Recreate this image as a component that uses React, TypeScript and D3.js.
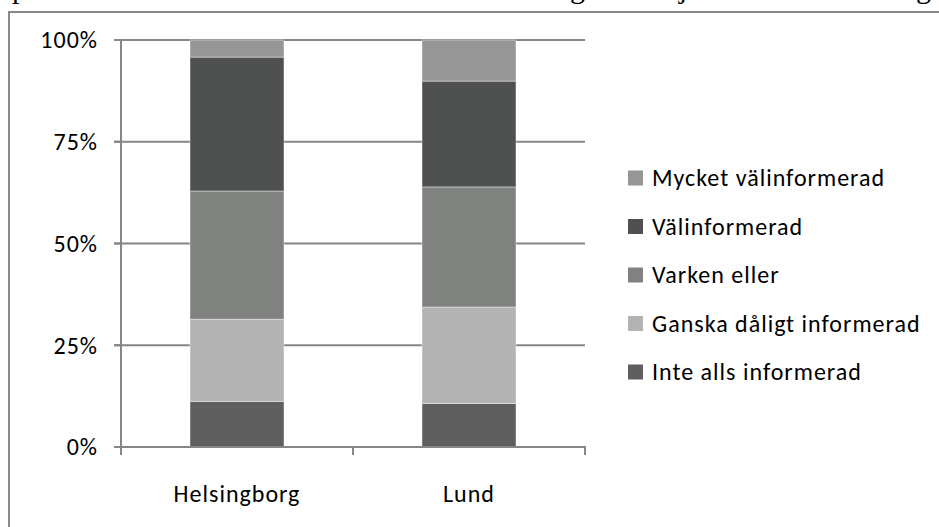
import React, { useEffect, useRef } from 'react';
import * as d3 from 'd3';

// kategorier och andelar (andel av svarande, 0-1)
const cities = ['Helsingborg', 'Lund'];
const levels = ['Inte alls informerad', 'Ganska dåligt informerad', 'Varken eller', 'Välinformerad', 'Mycket välinformerad'];
const helsingborgValues = [0.112, 0.202, 0.315, 0.329, 0.042];
const lundValues = [0.107, 0.237, 0.295, 0.260, 0.101];
const levelColors = ['#5f5f5f', '#b3b3b3', '#808280', '#4f5150', '#969696'];
const yTicks = [0, 0.25, 0.5, 0.75, 1];

const W = 939;
const H = 527;
const FONT = 'Carlito, Lato, "Open Sans", sans-serif';

function App() {
    const ref = useRef<SVGSVGElement>(null);

    useEffect(() => {
        const svg = d3.select(ref.current);
        svg.selectAll('*').remove();

        const rows = cities.map((c, i) => {
            const vals = i === 0 ? helsingborgValues : lundValues;
            const row: any = { city: c };
            levels.forEach((l, j) => { row[l] = vals[j]; });
            return row;
        });

        const x = d3.scaleBand().domain(cities).range([121, 585]).paddingInner(0.595).paddingOuter(0.2975);
        const y = d3.scaleLinear().domain([0, 1]).range([447, 40]);
        const color = d3.scaleOrdinal<string>().domain(levels).range(levelColors);

        // bortklippt text ovanför diagrammet (bara nedstaplar syns)
        const cut = svg.append('g').attr('font-family', '"Liberation Serif", "DejaVu Serif", serif')
            .attr('font-size', 30).attr('fill', '#000');
        [['p', 12], ['g', 570], ['j', 679], ['g', 916]].forEach(([t, px]) => {
            cut.append('text').attr('x', px as number).attr('y', -2).text(t as string);
        });

        // ram
        svg.append('rect')
            .attr('x', 9).attr('y', 12).attr('width', W).attr('height', H)
            .attr('fill', 'none').attr('stroke', '#898989').attr('stroke-width', 2);

        // stödlinjer
        svg.append('g').selectAll('line').data(yTicks.filter(t => t > 0)).enter()
            .append('line')
            .attr('x1', 114).attr('x2', 585)
            .attr('y1', d => y(d)).attr('y2', d => y(d))
            .attr('stroke', '#868686').attr('stroke-width', 2);

        // staplar
        const stack = d3.stack().keys(levels);
        const series = stack(rows);
        svg.append('g').selectAll('g').data(series).enter()
            .append('g')
            .attr('fill', d => color(d.key))
            .selectAll('rect').data(d => d).enter()
            .append('rect')
            .attr('x', (d: any) => x(d.data.city)!)
            .attr('width', x.bandwidth())
            .attr('y', d => y(d[1]))
            .attr('height', d => y(d[0]) - y(d[1]))
            .attr('stroke', 'rgba(255,255,255,0.4)')
            .attr('stroke-width', 1);

        // axlar
        const axG = svg.append('g').attr('stroke', '#868686').attr('stroke-width', 2);
        axG.append('line').attr('x1', 121).attr('x2', 121).attr('y1', 40).attr('y2', 455);
        axG.append('line').attr('x1', 114).attr('x2', 586).attr('y1', 447).attr('y2', 447);
        axG.selectAll('.yt').data(yTicks).enter().append('line')
            .attr('x1', 114).attr('x2', 121).attr('y1', d => y(d)).attr('y2', d => y(d));
        axG.selectAll('.xt').data(cities.map((c, i) => 121 + x.step() * (i + 1))).enter().append('line')
            .attr('x1', d => d).attr('x2', d => d).attr('y1', 447).attr('y2', 455);

        // y-etiketter
        svg.append('g').attr('font-family', FONT).attr('font-size', 24).attr('letter-spacing', 1).attr('fill', '#000')
            .selectAll('text').data(yTicks).enter().append('text')
            .attr('x', 98).attr('y', d => y(d)).attr('dy', '0.35em')
            .attr('text-anchor', 'end')
            .text(d => d3.format('.0%')(d));

        // x-etiketter
        svg.append('g').attr('font-family', FONT).attr('font-size', 24).attr('letter-spacing', 1).attr('fill', '#000')
            .selectAll('text').data(cities).enter().append('text')
            .attr('x', d => x(d)! + x.bandwidth() / 2).attr('y', 502)
            .attr('text-anchor', 'middle')
            .text(d => d);

        // legend
        const legendOrder = levels.slice().reverse();
        const lg = svg.append('g').attr('font-family', FONT).attr('font-size', 24).attr('letter-spacing', 1);
        legendOrder.forEach((l, i) => {
            const cy = 178 + i * 48.5;
            lg.append('rect').attr('x', 628).attr('y', cy - 7.5).attr('width', 15).attr('height', 15)
                .attr('fill', color(l));
            lg.append('text').attr('x', 652).attr('y', cy).attr('dy', '0.35em').attr('fill', '#000').text(l);
        });
    }, []);

    return (
        <svg ref={ref} width={W} height={H}
            style={{ position: 'absolute', left: 0, top: 0, background: '#fff' }} />
    );
}

export default App;
